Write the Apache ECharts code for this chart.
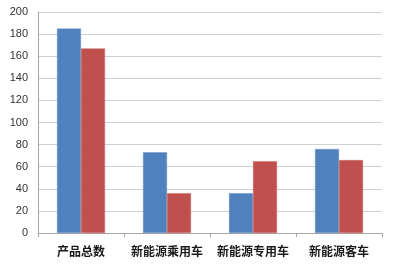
<!DOCTYPE html>
<html>
<head>
<meta charset="utf-8">
<script src="https://cdn.jsdelivr.net/npm/echarts@6/dist/echarts.min.js"></script>
<style>
  html, body { margin: 0; padding: 0; background: #fff; }
  #chart { width: 400px; height: 267px; }
</style>
</head>
<body>
<div id="chart"></div>
<script>
var categories = ['产品总数', '新能源乘用车', '新能源专用车', '新能源客车']
var seriesA = [185, 73, 36, 76]
var seriesB = [167, 36, 65, 66]

var chart = echarts.init(document.getElementById('chart'))
var option = {
  animation: false,
  backgroundColor: '#fff',
  grid: { left: 38, right: 18, top: 12, bottom: 34 },
  xAxis: {
    type: 'category',
    data: categories,
    axisLine: { lineStyle: { color: '#a6a6a6' } },
    axisTick: { show: true, length: 4, lineStyle: { color: '#a6a6a6' } },
    axisLabel: {
      interval: 0,
      color: '#1a1a1a',
      fontSize: 12,
      fontWeight: 'bold',
      fontFamily: 'Noto Sans CJK SC',
      margin: 12
    }
  },
  yAxis: {
    type: 'value',
    min: 0,
    max: 200,
    interval: 20,
    axisLine: { show: true, lineStyle: { color: '#a6a6a6' } },
    axisTick: { show: false },
    axisLabel: { color: '#333', fontSize: 11, fontFamily: 'Arial, Liberation Sans', margin: 10 },
    splitLine: { lineStyle: { color: '#d0d0d0' } }
  },
  series: [
    {
      type: 'bar',
      data: seriesA,
      barWidth: 24,
      barGap: '0%',
      itemStyle: { color: '#4f81bd', borderColor: '#6a95c8', borderWidth: 0.5 }
    },
    {
      type: 'bar',
      data: seriesB,
      barWidth: 24,
      itemStyle: { color: '#c0504d', borderColor: '#cf6a67', borderWidth: 0.5 }
    }
  ]
}
chart.setOption(option)
</script>
</body>
</html>
